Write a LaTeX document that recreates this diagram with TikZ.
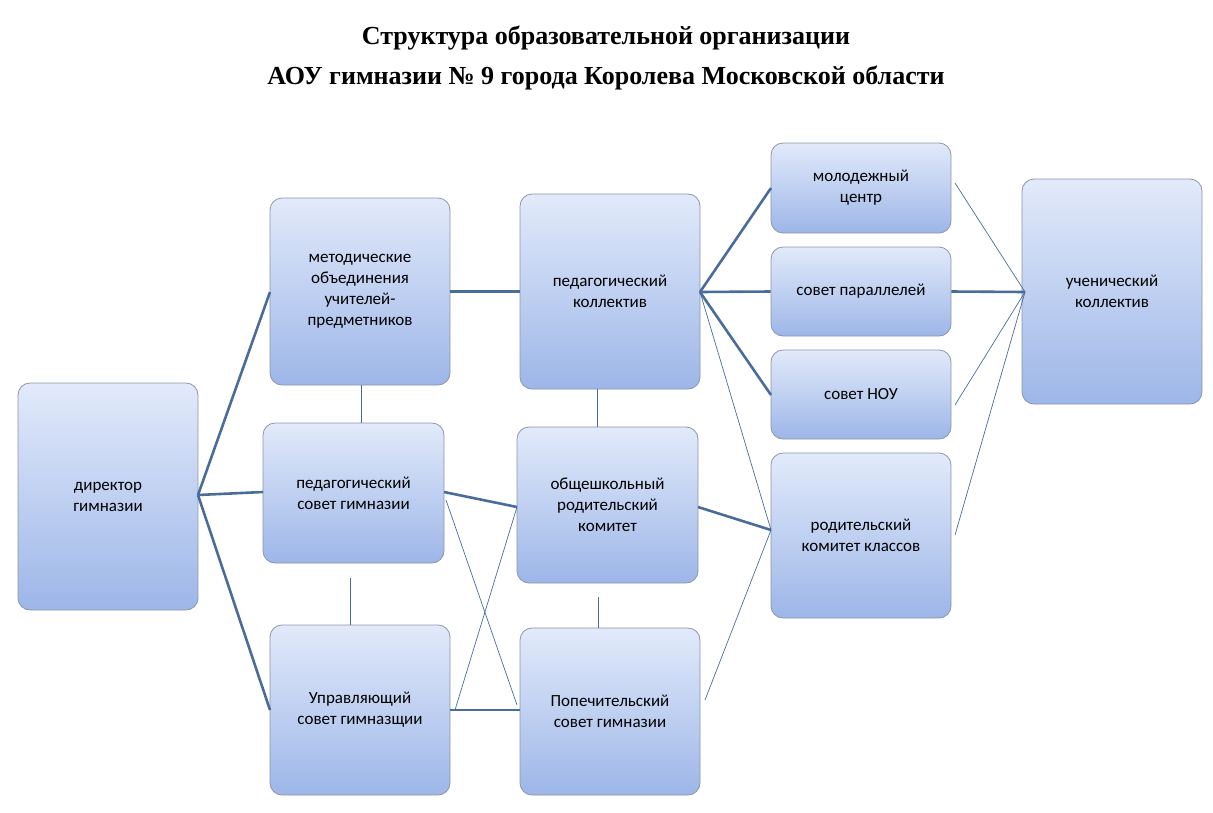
\documentclass[tikz,border=0pt]{standalone}
\usepackage{fontspec}
\setmainfont{Carlito}
\newfontfamily\titlefont{Liberation Serif}
\usetikzlibrary{calc}
\definecolor{lnc}{HTML}{4A6C9B}
\definecolor{topc}{HTML}{E2EAFA}
\definecolor{botc}{HTML}{9DB6E8}
\definecolor{brd}{HTML}{8C96A8}
\tikzset{
  bx/.style={draw=brd, line width=0.8pt, rounded corners=12pt, top color=topc, bottom color=botc, align=center, font=\fontsize{17}{21}\selectfont, inner sep=0pt},
  thk/.style={draw=lnc, line width=2.6pt},
  thn/.style={draw=lnc, line width=0.7pt},
}
\newcommand{\bxat}[6]{\node[bx, minimum width=#4-#2, minimum height=#5-#3] (#1) at ({(#2+#4)/2},{(#3+#5)/2}) {#6};}
\begin{document}
\begin{tikzpicture}[x=1pt,y=-1pt]
\useasboundingbox (0,0) rectangle (1213,812);
\node[font=\titlefont\bfseries\fontsize{26}{40}\selectfont, align=center] (title) at (606,58) {Структура образовательной организации\\АОУ гимназии № 9 города Королева Московской области};
\bxat{dir}{18}{383}{198}{610}{директор\\гимназии}
\bxat{met}{270}{198}{450}{385}{методические\\объединения\\учителей-\\предметников}
\bxat{pso}{263}{423}{444}{563}{педагогический\\совет гимназии}
\bxat{upr}{270}{625}{450}{795}{Управляющий\\совет гимназщии}
\bxat{pko}{520}{194}{700}{389}{педагогический\\коллектив}
\bxat{obs}{517}{427}{698}{583}{общешкольный\\родительский\\комитет}
\bxat{pop}{520}{628}{700}{795}{Попечительский\\совет гимназии}
\bxat{mol}{771}{143}{951}{233}{молодежный\\центр}
\bxat{spa}{771}{247}{951}{336}{совет параллелей}
\bxat{nou}{771}{350}{951}{439}{совет НОУ}
\bxat{rod}{771}{453}{951}{618}{родительский\\комитет классов}
\bxat{uch}{1022}{179}{1202}{404}{ученический\\коллектив}
\coordinate (dR) at (198,495);
\coordinate (pkR) at (700,292);
\coordinate (ucL) at (1025,292);
\coordinate (rdL) at (771,530);
% thick
\draw[thk] (dR) -- (270,292);
\draw[thk] (dR) -- (263,492);
\draw[thk] (dR) -- (270,710);
\draw[thk] (met.east) -- (pko.west);
\draw[thk] (444,492) -- (517,507);
\draw[thk] (upr.east) -- (520,710);
\draw[thk] (pkR) -- (771,188);
\draw[thk] (pkR) -- (spa.west);
\draw[thk] (pkR) -- (771,395);
\draw[thk] (698,507) -- (rdL);
\draw[thk] (spa.east) -- (ucL);
% thin
\draw[thn] (pkR) -- (rdL);
\draw[thn] (705,700) -- (rdL);
\draw[thn] (955,183) -- (ucL);
\draw[thn] (955,405) -- (ucL);
\draw[thn] (955,535) -- (ucL);
\draw[thn] (361,385) -- (361,423);
\draw[thn] (350,578) -- (350,625);
\draw[thn] (597,389) -- (597,427);
\draw[thn] (598,597) -- (598,628);
\draw[thn] (446,500) -- (517,705);
\draw[thn] (455,710) -- (517,507);
\end{tikzpicture}
\end{document}
